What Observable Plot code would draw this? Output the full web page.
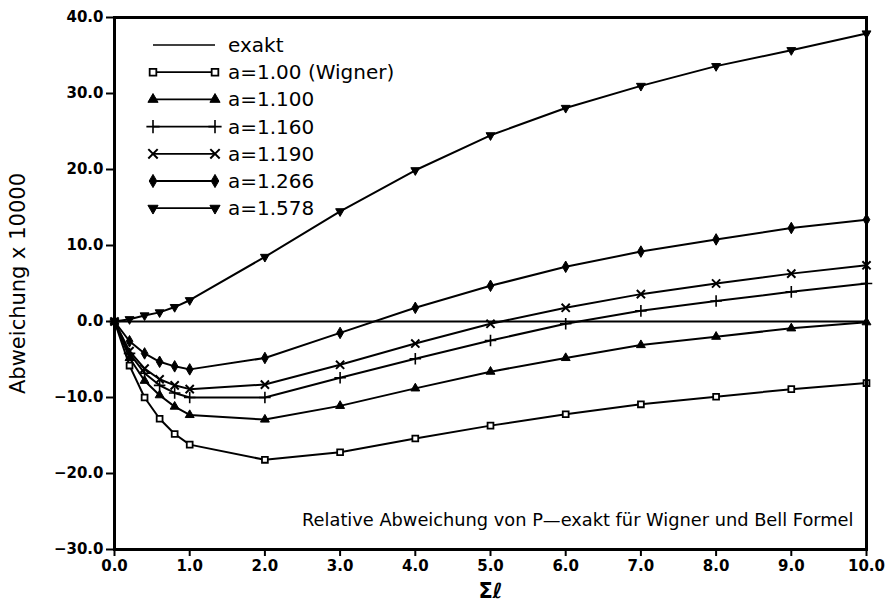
<!DOCTYPE html>
<html><head><meta charset="utf-8">
<script src="https://cdn.jsdelivr.net/npm/d3@7"></script>
<script src="https://cdn.jsdelivr.net/npm/@observablehq/plot@0.6"></script>
<style>
body{margin:0;background:#fff}
#wrap{position:relative;width:887px;height:609px}
#legend{position:absolute;left:0;top:0;pointer-events:none}
</style>
</head><body><div id="wrap"></div>
<script>
// ---- data ----
const xs = [0, 0.2, 0.4, 0.6, 0.8, 1, 2, 3, 4, 5, 6, 7, 8, 9, 10];
const seriesNames = ["a=1.00 (Wigner)", "a=1.100", "a=1.160", "a=1.190", "a=1.266", "a=1.578"];
const vA100  = [0, -5.8, -10.0, -12.8, -14.8, -16.2, -18.2, -17.2, -15.4, -13.7, -12.2, -10.9, -9.9, -8.9, -8.1];
const vA1100 = [0, -4.8, -7.8, -9.7, -11.2, -12.3, -12.9, -11.1, -8.8, -6.6, -4.8, -3.1, -2.0, -0.9, -0.1];
const vA1160 = [0, -4.2, -6.8, -8.4, -9.4, -10.0, -10.0, -7.4, -4.9, -2.5, -0.3, 1.4, 2.7, 3.9, 5.0];
const vA1190 = [0, -3.9, -6.2, -7.6, -8.4, -8.9, -8.3, -5.7, -2.9, -0.3, 1.8, 3.6, 5.0, 6.3, 7.4];
const vA1266 = [0, -2.6, -4.2, -5.3, -5.9, -6.3, -4.8, -1.5, 1.8, 4.7, 7.2, 9.2, 10.8, 12.3, 13.4];
const vA1578 = [0, 0.3, 0.8, 1.2, 1.9, 2.8, 8.5, 14.5, 19.9, 24.5, 28.1, 31.0, 33.6, 35.7, 37.9];
const exactLabel = "exakt";
const xTicks = [0, 1, 2, 3, 4, 5, 6, 7, 8, 9, 10];
const yTicks = [-30, -20, -10, 0, 10, 20, 30, 40];
const caption = "Relative Abweichung von P\u2014exakt f\u00fcr Wigner und Bell Formel";
const yLabel = "Abweichung x 10000";
const xLabel = "\u03a3\u2113";

// ---- styles ----
const seriesValues = [vA100, vA1100, vA1160, vA1190, vA1266, vA1578];
const markerStyles = [
  {symbol: "square", fill: "white", stroke: "black", strokeWidth: 1.8, r: 3.3, rotate: 0},
  {symbol: "triangle", fill: "black", stroke: "black", strokeWidth: 1, r: 3.3, rotate: 0},
  {symbol: "plus", fill: "none", stroke: "black", strokeWidth: 1.6, r: 3.8, rotate: 0},
  {symbol: "times", fill: "none", stroke: "black", strokeWidth: 2, r: 3.8, rotate: 0},
  {symbol: "diamond", fill: "black", stroke: "black", strokeWidth: 1, r: 3.5, rotate: 0},
  {symbol: "triangle", fill: "black", stroke: "black", strokeWidth: 1, r: 3.3, rotate: 180}
];

const tables = seriesValues.map((vals, i) => xs.map((x, j) => ({x, y: vals[j], s: seriesNames[i]})));
const fmt = d3.format(".1f");

const marks = [
  Plot.ruleY([0], {stroke: "black", strokeWidth: 2}),
  ...tables.map(t => Plot.line(t, {x: "x", y: "y", stroke: "black", strokeWidth: 2})),
  ...tables.map((t, i) => Plot.dot(t, {x: "x", y: "y", ...markerStyles[i]})),
  Plot.frame({stroke: "black", strokeWidth: 3}),
  Plot.axisX({ticks: xTicks, tickFormat: fmt, tickSize: 7, tickPadding: 4, label: null,
    fontSize: 15, fontWeight: "bold", strokeWidth: 2}),
  Plot.axisY({ticks: yTicks, tickFormat: fmt, tickSize: 8, tickPadding: 3, label: null,
    fontSize: 15, fontWeight: "bold", strokeWidth: 2}),
  Plot.text([caption], {frameAnchor: "bottom-right", dx: -13, dy: -24, textAnchor: "end",
    fontSize: 17.8, fill: "black"}),
  Plot.text([yLabel], {frameAnchor: "left", dx: -96, rotate: -90, textAnchor: "middle",
    fontSize: 21, fill: "black"}),
  Plot.text([xLabel], {frameAnchor: "bottom", dy: 48, textAnchor: "middle",
    fontSize: 21, fontWeight: "bold", fill: "black"})
];

const chart = Plot.plot({
  width: 887, height: 609,
  marginLeft: 114, marginRight: 21, marginTop: 17, marginBottom: 60,
  x: {domain: [0, 10]},
  y: {domain: [-30, 40]},
  style: {fontFamily: "DejaVu Sans", background: "white", color: "black", overflow: "visible"},
  marks
});
const wrap = document.getElementById("wrap");
wrap.appendChild(chart);

// ---- legend overlay ----
const svg = d3.select(wrap).append("svg").attr("id", "legend")
  .attr("width", 887).attr("height", 609)
  .style("font-family", "DejaVu Sans");
const lx0 = 153, lx1 = 215, ly0 = 45, dy = 27.2;
const legendLabels = [exactLabel, ...seriesNames];
const symMap = {square: d3.symbolSquare, triangle: d3.symbolTriangle, plus: d3.symbolPlus,
  times: d3.symbolTimes, diamond: d3.symbolDiamond};
legendLabels.forEach((lab, i) => {
  const y = ly0 + i * dy;
  const g = svg.append("g");
  g.append("line").attr("x1", lx0).attr("x2", lx1).attr("y1", y).attr("y2", y)
    .attr("stroke", "black").attr("stroke-width", i === 0 ? 1.5 : 1.8);
  if (i > 0) {
    const m = markerStyles[i - 1];
    const path = d3.symbol(symMap[m.symbol], m.r * m.r * Math.PI * 1.3)();
    [lx0, lx1].forEach(x => {
      g.append("path").attr("d", path)
        .attr("transform", `translate(${x},${y}) rotate(${m.rotate})`)
        .attr("fill", m.fill).attr("stroke", m.stroke).attr("stroke-width", m.strokeWidth);
    });
  }
  g.append("text").attr("x", 228).attr("y", y).attr("dy", "0.35em")
    .attr("font-size", 20).attr("fill", "black").text(lab);
});
</script>
</body></html>
